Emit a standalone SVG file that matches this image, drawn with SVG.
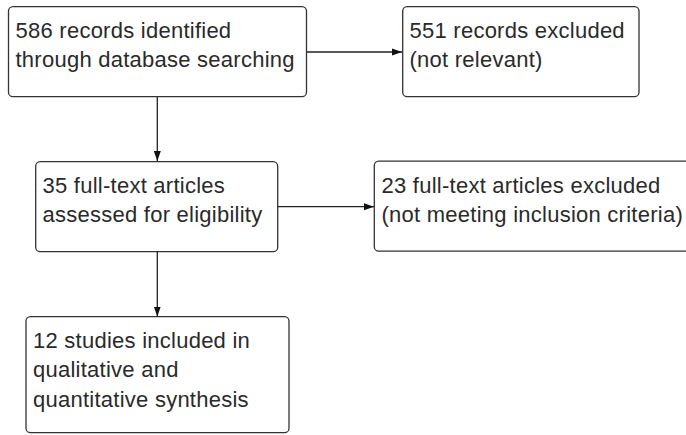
<svg xmlns="http://www.w3.org/2000/svg" width="686" height="435" viewBox="0 0 686 435">
<style>
.box{fill:#fff;stroke:#333;stroke-width:1.3}
.t{font-family:"Liberation Sans",Arial,sans-serif;font-size:22px;letter-spacing:0.25px;fill:#2a2a2a}
.c{stroke:#222;stroke-width:1.3;fill:none}
</style>
<defs>
<marker id="ah" markerWidth="10" markerHeight="8" refX="10" refY="4" orient="auto" markerUnits="userSpaceOnUse">
<path d="M0,0.5 L10,4 L0,7.5 Z" fill="#111"/>
</marker>
</defs>
<rect width="686" height="435" fill="#fff"/>
<g id="connectors">
<line class="c" x1="306.7" y1="52" x2="402" y2="52" marker-end="url(#ah)"/>
<line class="c" x1="157.3" y1="96.7" x2="157.3" y2="161" marker-end="url(#ah)"/>
<line class="c" x1="277.7" y1="206.7" x2="374" y2="206.7" marker-end="url(#ah)"/>
<line class="c" x1="157.3" y1="251.7" x2="157.3" y2="316.5" marker-end="url(#ah)"/>
</g>
<g id="n1">
<rect class="box" x="8.5" y="6.7" width="298" height="90" rx="4.5"/>
<text class="t" x="15.5" y="37.7">586 records identified</text>
<text class="t" x="15.5" y="66.7">through database searching</text>
</g>
<g id="n2">
<rect class="box" x="402.7" y="6.7" width="236.3" height="90" rx="4.5"/>
<text class="t" x="409.5" y="37.7">551 records excluded</text>
<text class="t" x="409.5" y="66.7">(not relevant)</text>
</g>
<g id="n3">
<rect class="box" x="35.7" y="161.7" width="242" height="90" rx="4.5"/>
<text class="t" x="42.5" y="192.7">35 full-text articles</text>
<text class="t" x="42.5" y="221.7">assessed for eligibility</text>
</g>
<g id="n4">
<rect class="box" x="374.3" y="161.2" width="330" height="90" rx="4.5"/>
<text class="t" x="381.5" y="193">23 full-text articles excluded</text>
<text class="t" x="381.5" y="222">(not meeting inclusion criteria)</text>
</g>
<g id="n5">
<rect class="box" x="26" y="316.7" width="263" height="116" rx="4.5"/>
<text class="t" x="33" y="347.5">12 studies included in</text>
<text class="t" x="33" y="377">qualitative and</text>
<text class="t" x="33" y="406.7">quantitative synthesis</text>
</g>
</svg>
